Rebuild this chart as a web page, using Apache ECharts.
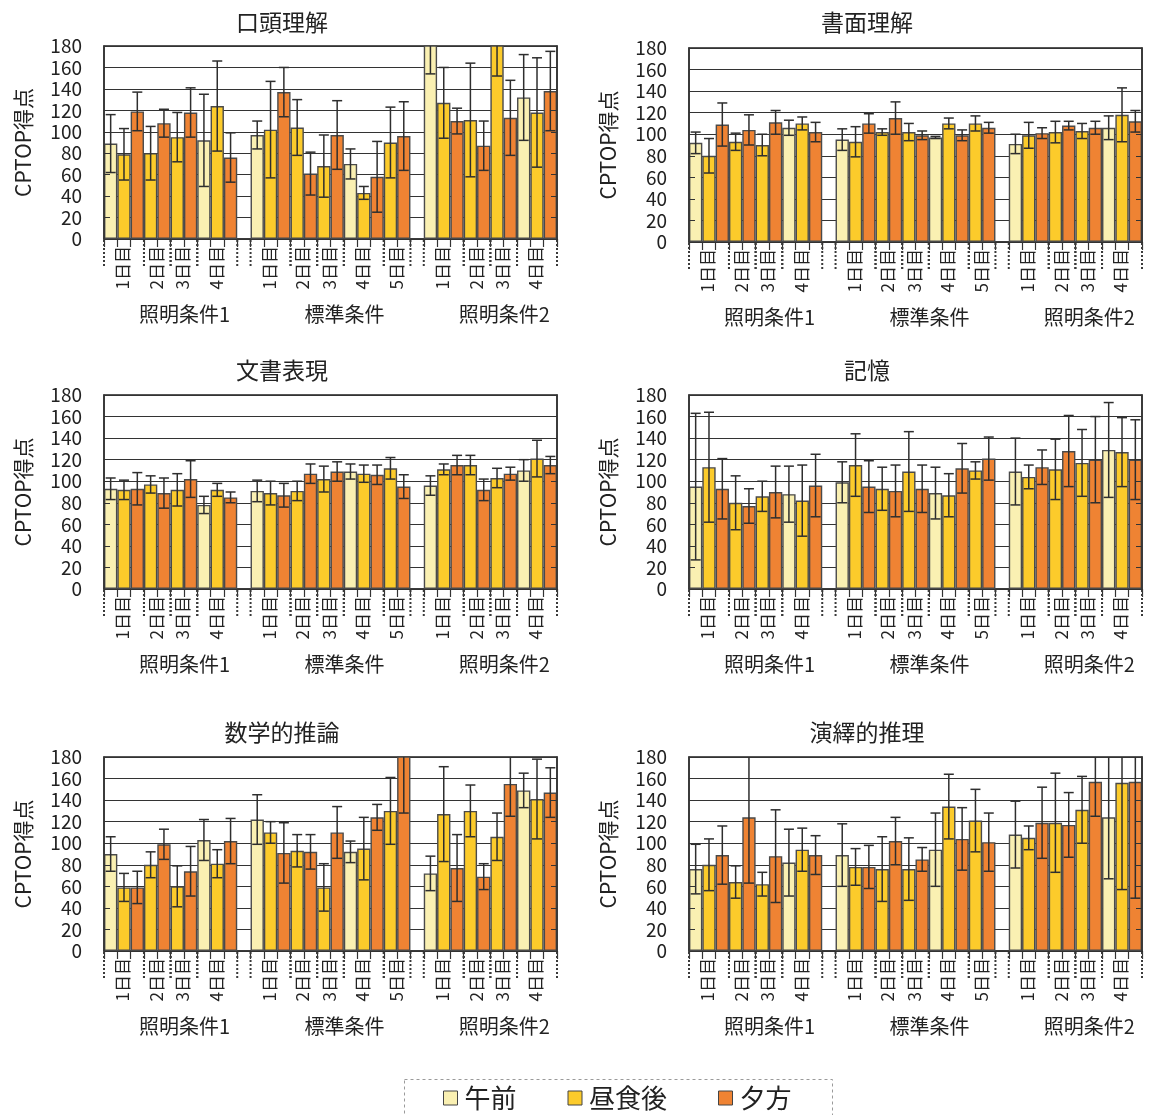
<!DOCTYPE html>
<html>
<head>
<meta charset="utf-8">
<script src="https://cdn.jsdelivr.net/npm/echarts@6/dist/echarts.min.js"></script>
<style>
  html, body { margin: 0; padding: 0; background: #ffffff; }
  #chart { width: 1150px; height: 1115px; }
</style>
</head>
<body>
<div id="chart"></div>
<script>
// Sessions within a day, experimental conditions and the days of each condition
const sessions = ['午前', '昼食後', '夕方'];
const conditions = ['照明条件1', '標準条件', '照明条件2'];
const dayNames = [
  ['1日目', '2日目', '3日目', '4日目'],
  ['1日目', '2日目', '3日目', '4日目', '5日目'],
  ['1日目', '2日目', '3日目', '4日目']
];
// Which sessions were measured on each day (0 = 午前, 1 = 昼食後, 2 = 夕方)
const daySessions = [
  [[0, 1, 2], [1, 2], [1, 2], [0, 1, 2]],
  [[0, 1, 2], [1, 2], [1, 2], [0, 1, 2], [1, 2]],
  [[0, 1, 2], [1, 2], [1, 2], [0, 1, 2]]
];
const yTicks = [0, 20, 40, 60, 80, 100, 120, 140, 160, 180];
const panelTitles = ['口頭理解', '書面理解', '文書表現', '記憶', '数学的推論', '演繹的推理'];

// CPTOP scores (mean and SD) in measurement order
const oralMean = [89, 79, 119, 80, 108, 95, 118, 92, 124, 76,
  97, 102, 137, 104, 61, 68, 97, 70, 43, 58, 90, 96,
  188, 127, 110, 111, 87, 187, 113, 132, 118, 138];
const oralSD = [27, 24, 18, 25, 13, 23, 23, 43, 42, 23,
  13, 45, 23, 26, 20, 29, 32, 14, 6, 33, 33, 32,
  34, 33, 12, 53, 23, 35, 35, 40, 51, 37];

const writtenMean = [92, 80, 109, 93, 104, 90, 111, 106, 110, 102,
  95, 93, 110, 102, 115, 102, 99, 97, 110, 99, 110, 106,
  91, 99, 101, 102, 108, 103, 106, 106, 118, 112];
const writtenSD = [10, 16, 20, 8, 14, 10, 11, 7, 6, 9,
  10, 14, 9, 3, 15, 8, 4, 1, 5, 5, 7, 5,
  9, 12, 5, 10, 4, 7, 6, 11, 25, 10];

const documentMean = [93, 92, 93, 97, 89, 92, 102, 78, 92, 85,
  91, 89, 87, 91, 107, 102, 109, 109, 107, 106, 112, 95,
  96, 111, 115, 115, 92, 103, 107, 110, 121, 115];
const documentSD = [10, 9, 15, 8, 14, 15, 17, 8, 6, 5,
  10, 11, 11, 9, 9, 12, 9, 7, 8, 9, 10, 11,
  9, 5, 9, 9, 10, 9, 6, 10, 17, 8];

const memoryMean = [95, 113, 93, 80, 77, 86, 90, 88, 82, 96,
  99, 115, 95, 93, 91, 109, 93, 89, 87, 112, 110, 121,
  109, 104, 113, 111, 128, 117, 120, 129, 127, 120];
const memorySD = [68, 51, 28, 25, 16, 14, 24, 26, 33, 29,
  19, 29, 24, 20, 24, 37, 22, 24, 20, 23, 8, 20,
  31, 11, 16, 28, 33, 31, 40, 44, 32, 37];

const mathMean = [90, 59, 59, 80, 99, 60, 74, 103, 81, 102,
  122, 110, 91, 93, 92, 59, 110, 92, 95, 124, 130, 186,
  72, 127, 77, 130, 69, 106, 155, 149, 141, 147];
const mathSD = [16, 13, 15, 12, 14, 19, 23, 19, 13, 21,
  23, 10, 28, 15, 16, 22, 24, 10, 29, 12, 31, 58,
  16, 44, 31, 24, 12, 22, 30, 16, 37, 23];

const logicMean = [76, 80, 89, 64, 124, 62, 88, 82, 94, 89,
  89, 78, 78, 76, 102, 76, 85, 94, 134, 104, 121, 101,
  108, 105, 119, 119, 117, 131, 157, 124, 156, 157];
const logicSD = [23, 24, 27, 15, 61, 11, 43, 31, 20, 18,
  29, 17, 20, 30, 22, 29, 11, 34, 30, 29, 29, 27,
  31, 11, 33, 46, 30, 31, 32, 57, 99, 108];

const panelMeans = [oralMean, writtenMean, documentMean, memoryMean, mathMean, logicMean];
const panelSDs = [oralSD, writtenSD, documentSD, memorySD, mathSD, logicSD];

// ---- layout & style ----
const FONT = "'Noto Sans CJK JP', 'Noto Sans', sans-serif";
const TEXT = '#222222';
const LINE = '#333333';
const sessionColors = ['#FAF0B2', '#FCCB2B', '#EF8333'];
const gridBoxes = [
  [104, 46, 453, 193], [689, 48, 453, 194],
  [104, 395, 453, 194], [689, 395, 453, 194],
  [104, 757, 453, 194], [689, 757, 453, 194]
];
const titleCenters = [[282, 23], [867, 23], [282, 371], [867, 371], [282, 733], [867, 733]];

// ---- category slots: one per bar, plus an empty slot between conditions ----
const slots = [];
const dayRanges = [];
const condRanges = [];
let slot = 0, barIdx = 0;
conditions.forEach((cond, ci) => {
  if (ci > 0) slot++;
  const cStart = slot;
  dayNames[ci].forEach((day, di) => {
    const dStart = slot;
    daySessions[ci][di].forEach(s => {
      slots.push({ slot: slot, session: s, bar: barIdx });
      slot++; barIdx++;
    });
    dayRanges.push([dStart, slot, day]);
  });
  condRanges.push([cStart, slot, cond]);
});
const slotCount = slot;
const categories = Array.from({ length: slotCount }, (_, i) => 's' + i);

// ---- renderers ----
function renderError(params, api) {
  const x = api.value(0), m = api.value(1), s = api.value(2);
  const top = api.coord([x, m + s]);
  const bot = api.coord([x, m - s]);
  const cx = top[0], hw = 5;
  const st = { stroke: '#2e2e2e', lineWidth: 1.5 };
  return {
    type: 'group',
    children: [
      { type: 'line', shape: { x1: cx, y1: top[1], x2: cx, y2: bot[1] }, style: st },
      { type: 'line', shape: { x1: cx - hw, y1: top[1], x2: cx + hw, y2: top[1] }, style: st },
      { type: 'line', shape: { x1: cx - hw, y1: bot[1], x2: cx + hw, y2: bot[1] }, style: st }
    ]
  };
}

function renderDay(params, api) {
  const a = api.value(0), b = api.value(1);
  const p0 = api.coord([a, 0]);
  const w = api.size([1, 0])[0];
  const x0 = p0[0] - w / 2, x1 = x0 + (b - a) * w, y0 = p0[1];
  const dot = { stroke: '#3a3a3a', lineWidth: 2, lineDash: [2, 2] };
  return {
    type: 'group',
    children: [
      { type: 'line', shape: { x1: x0, y1: y0 + 1, x2: x0, y2: y0 + 27 }, style: dot },
      { type: 'line', shape: { x1: x1, y1: y0 + 1, x2: x1, y2: y0 + 27 }, style: dot },
      {
        type: 'text', x: (x0 + x1) / 2 - 1, y: y0 + 7, rotation: Math.PI / 2,
        style: {
          text: dayRanges[params.dataIndex][2], fill: TEXT, fontSize: 17, fontFamily: FONT,
          align: 'right', verticalAlign: 'middle'
        }
      }
    ]
  };
}

function renderCondition(params, api) {
  const a = api.value(0), b = api.value(1);
  const p0 = api.coord([a, 0]);
  const w = api.size([1, 0])[0];
  const x0 = p0[0] - w / 2, x1 = x0 + (b - a) * w, y0 = p0[1];
  return {
    type: 'text', x: (x0 + x1) / 2 + 14, y: y0 + 75,
    style: {
      text: condRanges[params.dataIndex][2], fill: TEXT, fontSize: 20, fontFamily: FONT,
      align: 'center', verticalAlign: 'middle'
    }
  };
}

// ---- build option ----
const grids = [], xAxes = [], yAxes = [], series = [], titles = [];

panelTitles.forEach((name, p) => {
  const [gl, gt, gw, gh] = gridBoxes[p];
  grids.push({ left: gl, top: gt, width: gw, height: gh, show: true, borderColor: '#1e1e1e', borderWidth: 1.5, containLabel: false });
  titles.push({
    text: name, left: titleCenters[p][0], top: titleCenters[p][1] - 12, textAlign: 'center', padding: 0,
    textStyle: { fontSize: 23, fontWeight: 'normal', color: TEXT, fontFamily: FONT }
  });
  xAxes.push({
    type: 'category', gridIndex: p, data: categories, boundaryGap: true,
    axisLine: { show: true, lineStyle: { color: LINE, width: 1.5 } },
    axisTick: { show: true, interval: 0, length: 8, lineStyle: { color: LINE, width: 1.2 } },
    axisLabel: { show: false }, splitLine: { show: false }
  });
  const yBase = { type: 'value', gridIndex: p, min: yTicks[0], max: yTicks[yTicks.length - 1], interval: 20 };
  yAxes.push(Object.assign({}, yBase, {
    position: 'left', name: 'CPTOP得点', nameLocation: 'middle', nameGap: 70,
    nameTextStyle: { fontSize: 21, color: TEXT, fontFamily: FONT },
    axisLine: { show: false }, axisTick: { show: false },
    axisLabel: { fontSize: 19, color: TEXT, fontFamily: FONT, margin: 22, padding: [5, 0, 0, 0] },
    splitLine: { show: true, lineStyle: { color: LINE, width: 1 } }
  }));
  yAxes.push(Object.assign({}, yBase, {
    position: 'left', z: 5,
    axisLine: { show: true, lineStyle: { color: LINE, width: 1.5 } },
    axisTick: { show: true, inside: true, length: 6, lineStyle: { color: LINE } },
    axisLabel: { show: false }, splitLine: { show: false }
  }));
  yAxes.push(Object.assign({}, yBase, {
    position: 'right', z: 5,
    axisLine: { show: true, lineStyle: { color: LINE, width: 1.5 } },
    axisTick: { show: true, inside: true, length: 6, lineStyle: { color: LINE } },
    axisLabel: { show: false }, splitLine: { show: false }
  }));

  const means = panelMeans[p], sds = panelSDs[p];
  sessions.forEach((sName, s) => {
    const data = new Array(slotCount).fill(null);
    slots.forEach(it => { if (it.session === s) data[it.slot] = means[it.bar]; });
    series.push({
      name: sName, type: 'bar', xAxisIndex: p, yAxisIndex: p * 3, data: data,
      barGap: '-100%', barCategoryGap: '0%', z: 2, clip: true,
      itemStyle: { color: sessionColors[s], borderColor: '#4a4a4a', borderWidth: 1.4 },
      emphasis: { disabled: true }
    });
  });
  series.push({
    type: 'custom', xAxisIndex: p, yAxisIndex: p * 3, z: 3, clip: true, silent: true,
    data: slots.map(it => [it.slot, means[it.bar], sds[it.bar]]),
    renderItem: renderError
  });
  series.push({
    type: 'custom', xAxisIndex: p, yAxisIndex: p * 3, z: 3, silent: true,
    data: dayRanges.map(d => [d[0], d[1]]),
    renderItem: renderDay
  });
  series.push({
    type: 'custom', xAxisIndex: p, yAxisIndex: p * 3, z: 3, silent: true,
    data: condRanges.map(c => [c[0], c[1]]),
    renderItem: renderCondition
  });
});

const option = {
  backgroundColor: '#ffffff',
  animation: false,
  title: titles,
  grid: grids,
  xAxis: xAxes,
  yAxis: yAxes,
  legend: {
    data: sessions.map(n => ({ name: n, icon: 'rect' })),
    left: 438, top: 1080, itemWidth: 14, itemHeight: 14, itemGap: 51,
    textStyle: { fontSize: 26, color: TEXT, fontFamily: FONT, padding: [0, 0, 0, 2] },
    itemStyle: { borderColor: '#444444', borderWidth: 1 },
    selectedMode: false
  },
  graphic: [{
    type: 'rect', left: 402, top: 1077, silent: true,
    shape: { x: 0, y: 0, width: 428, height: 36 },
    style: { fill: 'none', stroke: '#9a9a9a', lineWidth: 1, lineDash: [3, 3] }
  }],
  series: series
};

const chart = echarts.init(document.getElementById('chart'), null, { renderer: 'canvas' });
chart.setOption(option);
</script>
</body>
</html>
